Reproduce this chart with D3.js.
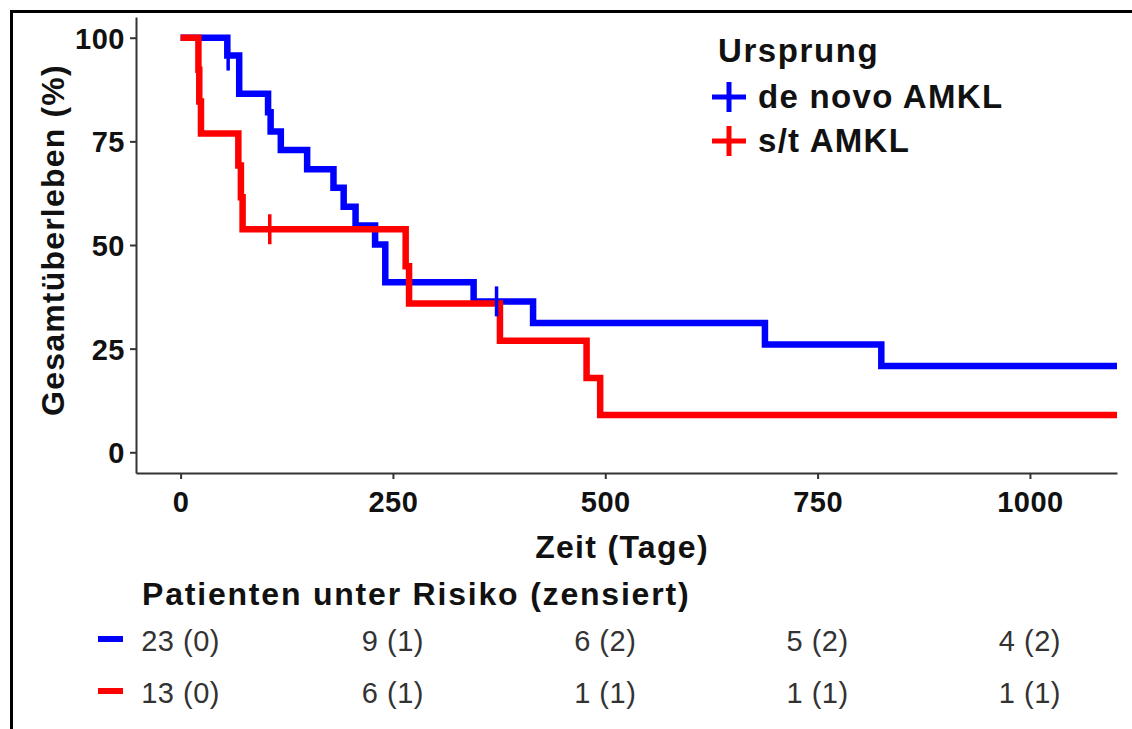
<!DOCTYPE html>
<html lang="de">
<head>
<meta charset="UTF-8">
<title>Gesamtüberleben nach Ursprung</title>
<script src="https://d3js.org/d3.v7.min.js"></script>
<style>
  body { margin: 0; background: #fff; }
  svg text { font-family: "Liberation Sans", Arial, sans-serif; }
  .axis path, .axis line { stroke: #333; stroke-width: 2px; }
  .axis text { font-size: 29px; font-weight: bold; fill: #111; letter-spacing: 0.5px; }
</style>
</head>
<body>
<svg id="chart" width="1132" height="729"></svg>
<script>
// Kaplan-Meier Stufen
const groups = ["de novo AMKL", "s/t AMKL"];
const colors = ["#0000ff", "#ff0000"];

const blueTimes = [0, 55, 69, 103, 106, 118, 149, 180, 192, 206, 229, 241, 345, 415, 688, 825];
const blueSurv  = [100, 95.7, 86.5, 82.0, 77.4, 72.9, 68.3, 63.8, 59.2, 54.7, 50.1, 41.0, 36.4, 31.2, 26.0, 20.8];
const blueCensTimes = [56, 372];
const blueCensSurv  = [95.7, 36.4];

const redTimes = [0, 21, 22, 24, 68, 71, 73, 265, 269, 376, 478, 494];
const redSurv  = [100, 92.3, 84.6, 76.9, 69.2, 61.5, 53.8, 44.9, 35.9, 26.9, 17.9, 9.0];
const redCensTimes = [105];
const redCensSurv  = [53.8];

const xTicks = [0, 250, 500, 750, 1000];
const yTicks = [0, 25, 50, 75, 100];

// Patienten unter Risiko (zensiert)
const riskTimes = [0, 250, 500, 750, 1000];
const blueRisk = ["23 (0)", "9 (1)", "6 (2)", "5 (2)", "4 (2)"];
const redRisk  = ["13 (0)", "6 (1)", "1 (1)", "1 (1)", "1 (1)"];

const svg = d3.select("#chart");

// Rahmen oben und links
svg.append("line").attr("x1", 10).attr("y1", 11.5).attr("x2", 1132).attr("y2", 11.5)
   .attr("stroke", "#000").attr("stroke-width", 3);
svg.append("line").attr("x1", 11.5).attr("y1", 10).attr("x2", 11.5).attr("y2", 729)
   .attr("stroke", "#000").attr("stroke-width", 3);

const x = d3.scaleLinear().domain([-52.5, 1102.5]).range([136, 1117]);
const y = d3.scaleLinear().domain([-5, 105]).range([473, 17]);

svg.append("defs").append("clipPath").attr("id", "panel")
   .append("rect")
   .attr("x", x.range()[0]).attr("y", y.range()[1])
   .attr("width", x.range()[1] - x.range()[0])
   .attr("height", y.range()[0] - y.range()[1]);

const xAxis = svg.append("g")
   .attr("class", "axis")
   .attr("transform", `translate(0,${y.range()[0]})`)
   .call(d3.axisBottom(x).tickValues(xTicks).tickFormat(d3.format("d"))
         .tickSize(6).tickSizeOuter(0).tickPadding(5));
xAxis.selectAll("text").attr("dy", "0.95em");

const yAxis = svg.append("g")
   .attr("class", "axis")
   .attr("transform", `translate(${x.range()[0]},0)`)
   .call(d3.axisLeft(y).tickValues(yTicks).tickSize(6).tickSizeOuter(0).tickPadding(5));
yAxis.selectAll("text").attr("dy", "0.36em");

// Kurven
const line = d3.line()
    .x(d => x(d[0]))
    .y(d => y(d[1]))
    .curve(d3.curveStepAfter);

const curves = [
  { t: blueTimes, s: blueSurv, ct: blueCensTimes, cs: blueCensSurv, color: colors[0] },
  { t: redTimes, s: redSurv, ct: redCensTimes, cs: redCensSurv, color: colors[1] }
];

const plot = svg.append("g").attr("clip-path", "url(#panel)");

curves.forEach(c => {
  const pts = c.t.map((t, i) => [t, c.s[i]]);
  pts.push([x.domain()[1], c.s[c.s.length - 1]]);
  plot.append("path")
      .datum(pts)
      .attr("d", line)
      .attr("fill", "none")
      .attr("stroke", c.color)
      .attr("stroke-width", 6.5)
      .attr("stroke-linejoin", "miter")
      .attr("stroke-linecap", "butt");
});

curves.forEach(c => {
  plot.selectAll(null)
      .data(c.ct.map((t, i) => [t, c.cs[i]]))
      .enter().append("line")
      .attr("x1", d => x(d[0])).attr("x2", d => x(d[0]))
      .attr("y1", d => y(d[1]) - 15).attr("y2", d => y(d[1]) + 15)
      .attr("stroke", c.color)
      .attr("stroke-width", 3.5);
});

// Achsentitel
svg.append("text")
   .attr("x", 622).attr("y", 558)
   .attr("text-anchor", "middle")
   .style("font-size", "32px").style("font-weight", "bold").style("letter-spacing", "1.3px")
   .attr("fill", "#111")
   .text("Zeit (Tage)");

svg.append("text")
   .attr("transform", "translate(64,240) rotate(-90)")
   .attr("text-anchor", "middle")
   .style("font-size", "32px").style("font-weight", "bold").style("letter-spacing", "1.2px")
   .attr("fill", "#111")
   .text("Gesamtüberleben (%)");

// Legende
const legend = svg.append("g");
legend.append("text")
   .attr("x", 718).attr("y", 62)
   .style("font-size", "33px").style("font-weight", "bold").style("letter-spacing", "1.6px")
   .attr("fill", "#111")
   .text("Ursprung");

groups.forEach((g, i) => {
  const by = 108 + i * 44;
  const cy = by - 11;
  legend.append("line")
     .attr("x1", 712).attr("x2", 746).attr("y1", cy).attr("y2", cy)
     .attr("stroke", colors[i]).attr("stroke-width", 5);
  legend.append("line")
     .attr("x1", 729).attr("x2", 729).attr("y1", cy - 15).attr("y2", cy + 15)
     .attr("stroke", colors[i]).attr("stroke-width", 5);
  legend.append("text")
     .attr("x", 758).attr("y", by)
     .style("font-size", "33px").style("font-weight", "bold").style("letter-spacing", "1.3px")
     .attr("fill", "#111")
     .text(g);
});

// Risikotabelle
svg.append("text")
   .attr("x", 142).attr("y", 605)
   .style("font-size", "32px").style("font-weight", "bold").style("letter-spacing", "1.8px")
   .attr("fill", "#111")
   .text("Patienten unter Risiko (zensiert)");

[blueRisk, redRisk].forEach((row, i) => {
  const by = 651 + i * 52;
  svg.append("line")
     .attr("x1", 98).attr("x2", 123).attr("y1", by - 12).attr("y2", by - 12)
     .attr("stroke", colors[i]).attr("stroke-width", 6);
  svg.selectAll(null)
     .data(row)
     .enter().append("text")
     .attr("x", (d, j) => x(riskTimes[j]))
     .attr("y", by)
     .attr("text-anchor", "middle")
     .style("font-size", "29px").style("letter-spacing", "0.5px")
     .attr("fill", "#333")
     .text(d => d);
});
</script>
</body>
</html>
